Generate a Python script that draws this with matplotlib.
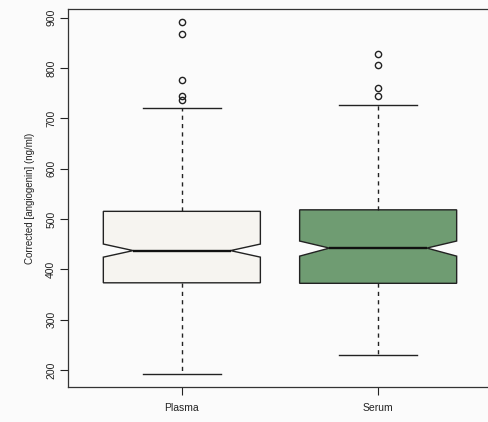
import numpy as np
import matplotlib
matplotlib.use("Agg")
import matplotlib.pyplot as plt

plt.rcParams['font.family'] = ['Liberation Sans', 'DejaVu Sans']

# values
groups = ["Plasma", "Serum"]
q1 = [373, 372]
medians = [437, 442]
q3 = [515, 518]
notch_lo = [424, 426]
notch_hi = [450, 456]
whisker_lo = [192, 230]
whisker_hi = [721, 726]
outliers = [[891, 868, 776, 745, 737], [827, 805, 761, 745]]
fill_colours = ["#f6f4f0", "#6f9c72"]

stats = []
for i in range(len(groups)):
    stats.append({
        "label": groups[i],
        "q1": q1[i], "med": medians[i], "q3": q3[i],
        "cilo": notch_lo[i], "cihi": notch_hi[i],
        "whislo": whisker_lo[i], "whishi": whisker_hi[i],
        "fliers": np.array(outliers[i]),
    })

fig = plt.figure(figsize=(4.88, 4.22), dpi=100)
fig.patch.set_facecolor("#fbfbfb")
ax = fig.add_axes([68 / 488, 35 / 422, (492 - 68) / 488, (387 - 9) / 422])
ax.set_facecolor("#fbfbfb")

positions = [1, 2]
box_w = 0.8
bp = ax.bxp(stats, positions=positions, widths=box_w, shownotches=True,
            patch_artist=True,
            boxprops=dict(edgecolor="#222222", linewidth=1.0),
            medianprops=dict(color="#111111", linewidth=1.7),
            whiskerprops=dict(color="#222222", linewidth=1.0,
                              linestyle=(0, (3, 3))),
            capprops=dict(color="#222222", linewidth=1.0),
            flierprops=dict(marker="o", markersize=4.5, markerfacecolor="none",
                            markeredgecolor="#222222", markeredgewidth=1.0))

# R-style notch: indent a bit shallower than matplotlib's default
inner = box_w * 0.31
for patch, c, pos, med in zip(bp["boxes"], fill_colours, positions, bp["medians"]):
    patch.set_facecolor(c)
    v = patch.get_path().vertices
    left = np.isclose(v[:, 0], pos - box_w * 0.25)
    right = np.isclose(v[:, 0], pos + box_w * 0.25)
    v[left, 0] = pos - inner
    v[right, 0] = pos + inner
    med.set_xdata([pos - inner, pos + inner])

ax.set_xlim(0.42, 2.58)
ax.set_ylim(166, 917)
ax.set_yticks([200, 300, 400, 500, 600, 700, 800, 900])
ax.set_xticks(positions)
ax.set_xticklabels(groups)
for lab in ax.get_yticklabels():
    lab.set_rotation(90)
    lab.set_va("center")
ax.tick_params(axis="both", direction="out", length=5.5, width=0.8,
               labelsize=7.5, colors="#222222", pad=3)
ax.tick_params(axis="x", pad=6)
ax.set_ylabel("Corrected [angiogenin] (ng/ml)", fontsize=7, color="#222222",
              labelpad=8)
for s in ["left", "bottom", "top", "right"]:
    ax.spines[s].set_color("#333333")
    ax.spines[s].set_linewidth(0.9)

fig.savefig("out.png", dpi=100, facecolor=fig.get_facecolor())
